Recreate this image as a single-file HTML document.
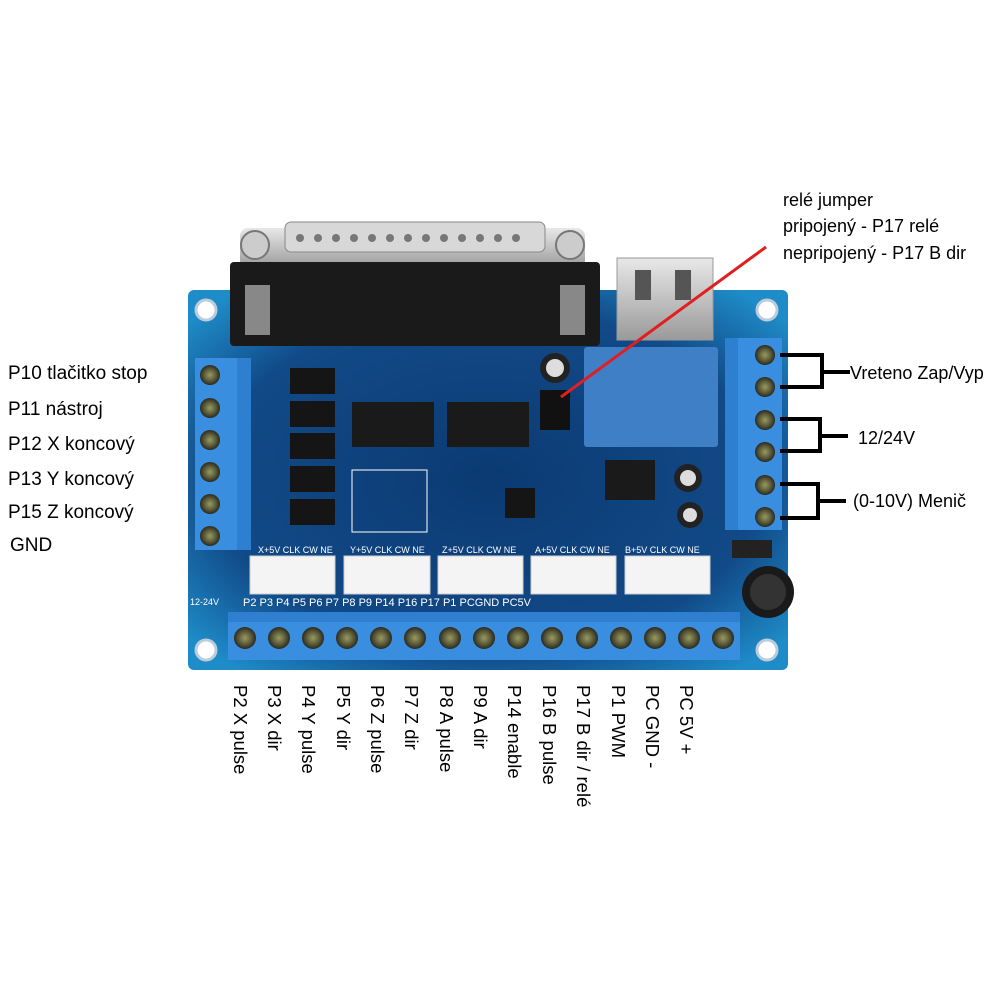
<!DOCTYPE html>
<html><head><meta charset="utf-8"><style>
body{margin:0;background:#fff;}
svg{display:block}
text{font-family:"Liberation Sans",sans-serif;}
</style></head><body>
<svg width="1000" height="1000" viewBox="0 0 1000 1000" xmlns="http://www.w3.org/2000/svg">
<defs>
<radialGradient id="bd" cx="50%" cy="50%" r="65%">
<stop offset="0" stop-color="#0c3a72"/><stop offset="0.7" stop-color="#114a88"/><stop offset="1" stop-color="#1e8cc8"/>
</radialGradient>
<radialGradient id="scr" cx="50%" cy="50%" r="50%">
<stop offset="0" stop-color="#9a9a60"/><stop offset="0.6" stop-color="#5a5a3a"/><stop offset="1" stop-color="#2a2a20"/>
</radialGradient>
<linearGradient id="met" x1="0" y1="0" x2="0" y2="1"><stop offset="0" stop-color="#e8e8e8"/><stop offset="1" stop-color="#9a9a9a"/></linearGradient>
</defs>
<rect x="188" y="290" width="600" height="380" rx="6" fill="url(#bd)"/>
<circle cx="206" cy="310" r="10" fill="#fff" stroke="#bcd" stroke-width="3"/>
<circle cx="767" cy="310" r="10" fill="#fff" stroke="#bcd" stroke-width="3"/>
<circle cx="206" cy="650" r="10" fill="#fff" stroke="#bcd" stroke-width="3"/>
<circle cx="767" cy="650" r="10" fill="#fff" stroke="#bcd" stroke-width="3"/>
<rect x="240" y="228" width="345" height="40" rx="8" fill="url(#met)"/>
<rect x="285" y="222" width="260" height="30" rx="6" fill="#d8d8d8" stroke="#888"/>
<g fill="#777">
<circle cx="300" cy="238" r="4"/><circle cx="318" cy="238" r="4"/><circle cx="336" cy="238" r="4"/><circle cx="354" cy="238" r="4"/><circle cx="372" cy="238" r="4"/><circle cx="390" cy="238" r="4"/><circle cx="408" cy="238" r="4"/><circle cx="426" cy="238" r="4"/><circle cx="444" cy="238" r="4"/><circle cx="462" cy="238" r="4"/><circle cx="480" cy="238" r="4"/><circle cx="498" cy="238" r="4"/><circle cx="516" cy="238" r="4"/></g>
<circle cx="255" cy="245" r="14" fill="#ccc" stroke="#777" stroke-width="2"/>
<circle cx="570" cy="245" r="14" fill="#ccc" stroke="#777" stroke-width="2"/>
<rect x="230" y="262" width="370" height="84" rx="4" fill="#1a1a1a"/>
<rect x="245" y="285" width="25" height="50" fill="#888"/>
<rect x="560" y="285" width="25" height="50" fill="#888"/>
<rect x="617" y="258" width="96" height="82" fill="url(#met)" stroke="#999"/>
<rect x="635" y="270" width="16" height="30" fill="#555"/><rect x="675" y="270" width="16" height="30" fill="#555"/>
<rect x="195" y="358" width="42" height="192" fill="#3a8ee0"/>
<rect x="237" y="358" width="14" height="192" fill="#2f7fd0"/>
<g fill="url(#scr)"><circle cx="210" cy="375" r="10"/><circle cx="210" cy="408" r="10"/><circle cx="210" cy="440" r="10"/><circle cx="210" cy="472" r="10"/><circle cx="210" cy="504" r="10"/><circle cx="210" cy="536" r="10"/></g>
<g fill="#151515"><rect x="290" y="368" width="45" height="26"/><rect x="290" y="401" width="45" height="26"/><rect x="290" y="433" width="45" height="26"/><rect x="290" y="466" width="45" height="26"/><rect x="290" y="499" width="45" height="26"/></g>
<rect x="352" y="402" width="82" height="45" fill="#1a1a1a"/>
<rect x="447" y="402" width="82" height="45" fill="#1a1a1a"/>
<rect x="352" y="470" width="75" height="62" fill="none" stroke="#fff" stroke-width="1"/>
<circle cx="555" cy="368" r="15" fill="#222"/><circle cx="555" cy="368" r="9" fill="#ddd"/>
<rect x="540" y="390" width="30" height="40" fill="#111"/>
<rect x="584" y="347" width="134" height="100" rx="3" fill="#3f7fc5"/>
<rect x="738" y="338" width="44" height="192" fill="#3a8ee0"/>
<rect x="725" y="338" width="13" height="192" fill="#2f7fd0"/>
<g fill="url(#scr)"><circle cx="765" cy="355" r="10"/><circle cx="765" cy="387" r="10"/><circle cx="765" cy="420" r="10"/><circle cx="765" cy="452" r="10"/><circle cx="765" cy="485" r="10"/><circle cx="765" cy="517" r="10"/></g>
<rect x="605" y="460" width="50" height="40" fill="#1a1a1a"/>
<circle cx="688" cy="478" r="14" fill="#222"/><circle cx="688" cy="478" r="8" fill="#ddd"/>
<circle cx="690" cy="515" r="13" fill="#222"/><circle cx="690" cy="515" r="7" fill="#ddd"/>
<rect x="505" y="488" width="30" height="30" fill="#151515"/>
<rect x="732" y="540" width="40" height="18" fill="#222"/>
<g fill="#f4f4f4" stroke="#ccc"><rect x="250" y="556" width="85" height="38"/><rect x="344" y="556" width="86" height="38"/><rect x="438" y="556" width="85" height="38"/><rect x="531" y="556" width="85" height="38"/><rect x="625" y="556" width="85" height="38"/></g>
<g fill="#fff" font-size="9"><text x="258" y="553">X+5V CLK CW  NE</text><text x="350" y="553">Y+5V CLK CW  NE</text><text x="442" y="553">Z+5V CLK CW  NE</text><text x="535" y="553">A+5V CLK CW  NE</text><text x="625" y="553">B+5V CLK CW  NE</text>
<text x="190" y="605">12-24V</text>
<text x="243" y="606" font-size="11">P2    P3    P4    P5    P6    P7    P8    P9   P14  P16  P17   P1  PCGND PC5V</text></g>
<circle cx="768" cy="592" r="26" fill="#1a1a1a"/><circle cx="768" cy="592" r="18" fill="#333"/>
<rect x="228" y="612" width="512" height="48" fill="#3a8ee0"/>
<rect x="228" y="612" width="512" height="10" fill="#2f7fd0"/>
<g fill="url(#scr)">
<circle cx="245" cy="638" r="11"/><circle cx="279" cy="638" r="11"/><circle cx="313" cy="638" r="11"/><circle cx="347" cy="638" r="11"/><circle cx="381" cy="638" r="11"/><circle cx="415" cy="638" r="11"/><circle cx="450" cy="638" r="11"/><circle cx="484" cy="638" r="11"/><circle cx="518" cy="638" r="11"/><circle cx="552" cy="638" r="11"/><circle cx="587" cy="638" r="11"/><circle cx="621" cy="638" r="11"/><circle cx="655" cy="638" r="11"/><circle cx="689" cy="638" r="11"/><circle cx="723" cy="638" r="11"/></g>
<line x1="561" y1="397" x2="766" y2="247" stroke="#e02020" stroke-width="3"/>
<g fill="none" stroke="#000" stroke-width="4">
<path d="M780 355 H822 V387 H780 M822 372 H850"/>
<path d="M780 419 H820 V451 H780 M820 436 H848"/>
<path d="M780 484 H818 V518 H780 M818 501 H846"/>
</g>
<g font-size="18" fill="#000">
<text x="783" y="206">relé jumper</text>
<text x="783" y="232">pripojený - P17 relé</text>
<text x="783" y="259">nepripojený - P17 B dir</text>
<text x="850" y="379">Vreteno Zap/Vyp</text>
<text x="858" y="444">12/24V</text>
<text x="853" y="507">(0-10V) Menič</text>
</g>
<g font-size="19" fill="#000">
<text x="8" y="379">P10  tlačitko stop</text>
<text x="8" y="415">P11 nástroj</text>
<text x="8" y="450">P12 X koncový</text>
<text x="8" y="485">P13 Y koncový</text>
<text x="8" y="518">P15 Z koncový</text>
<text x="10" y="551">GND</text>
</g>
<g font-size="18.5" fill="#000">
<text transform="translate(234,685) rotate(90)">P2 X pulse</text>
<text transform="translate(268,685) rotate(90)">P3 X dir</text>
<text transform="translate(302,685) rotate(90)">P4 Y pulse</text>
<text transform="translate(337,685) rotate(90)">P5 Y dir</text>
<text transform="translate(371,685) rotate(90)">P6 Z pulse</text>
<text transform="translate(405,685) rotate(90)">P7 Z dir</text>
<text transform="translate(440,685) rotate(90)">P8 A pulse</text>
<text transform="translate(474,685) rotate(90)">P9 A dir</text>
<text transform="translate(508,685) rotate(90)">P14 enable</text>
<text transform="translate(543,685) rotate(90)">P16 B pulse</text>
<text transform="translate(577,685) rotate(90)">P17 B dir / relé</text>
<text transform="translate(612,685) rotate(90)">P1 PWM</text>
<text transform="translate(646,685) rotate(90)">PC GND -</text>
<text transform="translate(680,685) rotate(90)">PC 5V +</text>
</g>
</svg>
</body></html>
